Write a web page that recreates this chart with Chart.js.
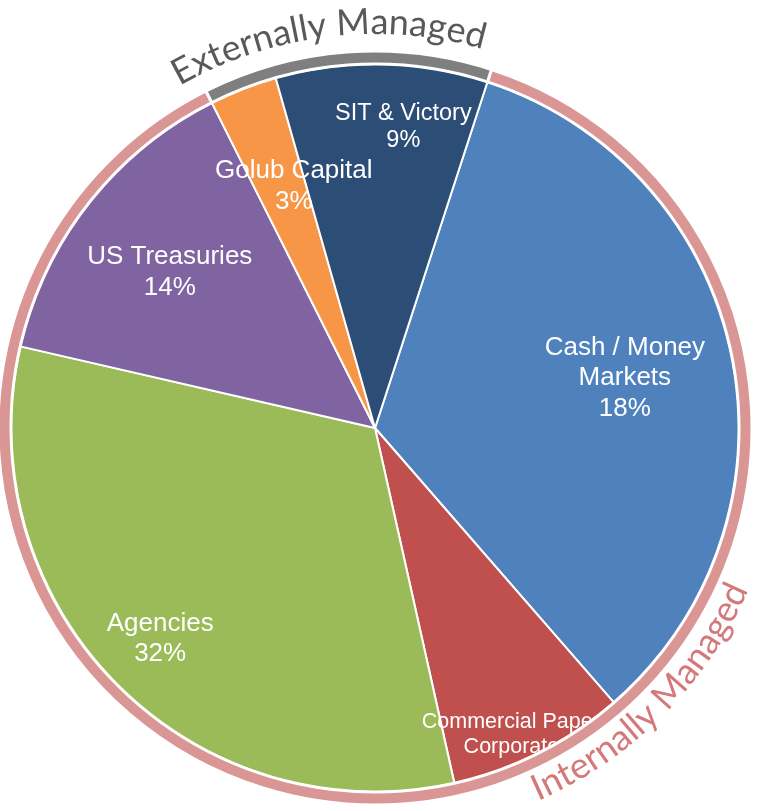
<!DOCTYPE html>
<html>
<head>
<meta charset="utf-8">
<title>Portfolio allocation</title>
<script src="https://cdn.jsdelivr.net/npm/chart.js@4.4.1/dist/chart.umd.min.js"></script>
<style>
  html, body { margin: 0; padding: 0; background: #fff; }
  canvas { display: block; }
</style>
</head>
<body>
<canvas id="allocationChart" width="760" height="811"></canvas>
<script>
// Slice data, clockwise from the SIT / Cash boundary
const categories = ['Cash / Money Markets', 'Commercial Paper / Corporates', 'Agencies', 'US Treasuries', 'Golub Capital', 'SIT & Victory'];
const shares = [33.6, 7.9, 32.1, 14.0, 3.0, 9.4];
const managedBy = ['Internally Managed', 'Internally Managed', 'Internally Managed', 'Internally Managed', 'Externally Managed', 'Externally Managed'];
const labelLines = [
  ['Cash / Money', 'Markets'],
  ['Commercial Paper /', 'Corporates'],
  ['Agencies'],
  ['US Treasuries'],
  ['Golub Capital'],
  ['SIT & Victory'],
];
const pctLabels = ['18%', '', '32%', '14%', '3%', '9%'];
const groups = ['Internally Managed', 'Externally Managed'];

// Outer ring values: sum the slices by manager
const groupTotals = groups.map(g =>
  shares.reduce((s, v, i) => s + (managedBy[i] === g ? v : 0), 0));

const sliceColors = ['#4f81bd', '#c0504d', '#9bbb59', '#8064a2', '#f79646', '#2c4d75'];
const ringColors = ['#d99694', '#7f7f7f'];

// label placement (fraction of radius, angle nudge in degrees, font size)
const labelRadius = [0.70, 0.928, 0.827, 0.708, 0.70, 0.83];
const labelShift = [0.2, 2.0, 0.35, -0.95, 2.65, 4.3];
const labelSize = [26, 21.5, 26, 26, 26, 23.5];

/**
 * White text inside the pie slices, clipped to the pie so the ring covers it.
 */
const sliceLabels = {
  id: 'sliceLabels',
  afterDatasetsDraw(chart) {
    const meta = chart.getDatasetMeta(1);
    const { ctx } = chart;
    const first = meta.data[0];
    ctx.save();
    ctx.beginPath();
    ctx.arc(first.x, first.y, first.outerRadius - 1, 0, Math.PI * 2);
    ctx.clip();
    ctx.fillStyle = '#fff';
    ctx.textAlign = 'center';
    ctx.textBaseline = 'middle';
    meta.data.forEach((arc, i) => {
      const mid = (arc.startAngle + arc.endAngle) / 2 + labelShift[i] * Math.PI / 180;
      const r = arc.outerRadius * labelRadius[i];
      const cx = arc.x + Math.cos(mid) * r;
      const cy = arc.y + Math.sin(mid) * r;
      const lines = pctLabels[i] ? labelLines[i].concat(pctLabels[i]) : labelLines[i];
      const size = labelSize[i];
      const lh = size * 1.17;
      ctx.font = `${size}px "Liberation Sans", Arial, sans-serif`;
      lines.forEach((t, k) => {
        ctx.fillText(t, cx, cy + (k - (lines.length - 1) / 2) * lh);
      });
    });
    ctx.restore();
  },
};

function drawArcText(ctx, text, cx, cy, radius, centerDeg, clockwise, font, color) {
  ctx.save();
  ctx.font = font;
  ctx.fillStyle = color;
  ctx.textAlign = 'center';
  ctx.textBaseline = 'alphabetic';
  const total = ctx.measureText(text).width;
  const dir = clockwise ? 1 : -1;
  let a = centerDeg * Math.PI / 180 - dir * total / 2 / radius;
  for (const ch of text) {
    const w = ctx.measureText(ch).width;
    a += dir * w / 2 / radius;
    ctx.save();
    ctx.translate(cx + radius * Math.sin(a), cy - radius * Math.cos(a));
    ctx.rotate(clockwise ? a : a + Math.PI);
    ctx.fillText(ch, 0, 0);
    ctx.restore();
    a += dir * w / 2 / radius;
  }
  ctx.restore();
}

/**
 * Curved group captions outside the ring.
 */
const ringCaptions = {
  id: 'ringCaptions',
  afterDraw(chart) {
    const arc = chart.getDatasetMeta(0).data[0];
    const { ctx } = chart;
    const font = '36px Lato, "Open Sans", sans-serif';
    drawArcText(ctx, groups[1], arc.x, arc.y, arc.outerRadius + 17, -7.0, true, font, '#595959');
    drawArcText(ctx, groups[0], arc.x, arc.y, arc.outerRadius + 30, 135, false, font, '#d4797a');
  },
};

const ctx = document.getElementById('allocationChart').getContext('2d');
new Chart(ctx, {
  type: 'pie',
  data: {
    labels: categories,
    datasets: [
      {
        label: 'Manager',
        data: groupTotals,
        backgroundColor: ringColors,
        borderColor: '#fff',
        borderWidth: 3,
        weight: 13,
        rotation: 18,
      },
      {
        label: 'Allocation',
        data: shares,
        backgroundColor: sliceColors,
        borderColor: '#fff',
        borderWidth: 2,
        weight: 364,
        rotation: 18,
      },
    ],
  },
  options: {
    responsive: false,
    animation: false,
    radius: 377,
    layout: { padding: { left: 0, right: 10, top: 45, bottom: 0 } },
    plugins: {
      legend: { display: false },
      tooltip: { enabled: false },
    },
  },
  plugins: [sliceLabels, ringCaptions],
});
</script>
</body>
</html>
